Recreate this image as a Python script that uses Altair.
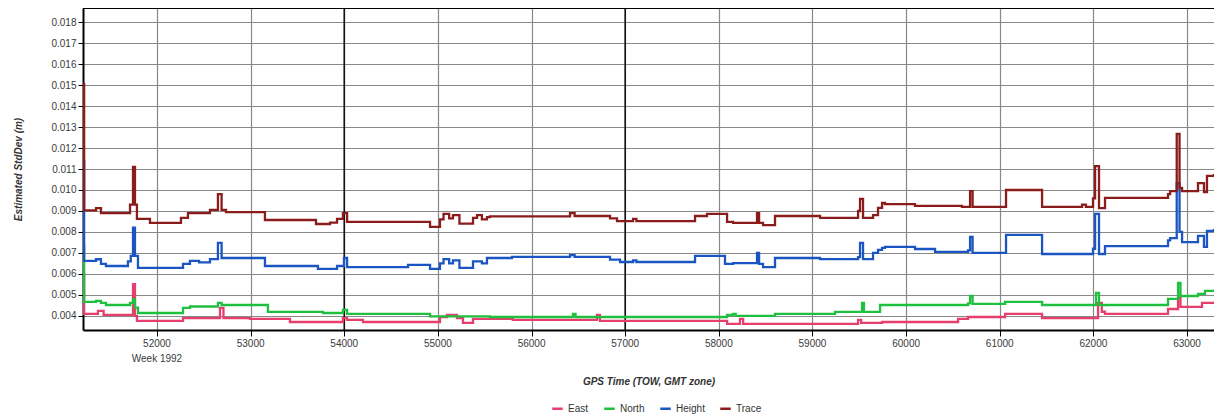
import altair as alt
import pandas as pd

# ---- data (GPS time of week, estimated std dev in m) ----
trace_t = [51212, 51222, 51349, 51402, 51712, 51744, 51765, 51786, 51925, 52256, 52331, 52566,
           52651, 52690, 52737, 53153, 53698, 53848, 53923, 53986, 54030, 54916, 55022, 55060,
           55120, 55161, 55230, 55375, 55418, 55470, 55524, 55556, 56411, 56460, 56838, 56913,
           57084, 57120, 57746, 57874, 58088, 58152, 58408, 58430, 58472, 58600, 59081, 59487,
           59508, 59540, 59647, 59700, 59743, 59775, 60095, 60597, 60683, 60710, 61067, 61452,
           61879, 61920, 61996, 62018, 62060, 62124, 62797, 62819, 62890, 62920, 62947, 63117,
           63181, 63213, 63288]
trace_v = [0.01505, 0.00903, 0.00914, 0.00890, 0.00930, 0.01110, 0.00930, 0.00862, 0.00843, 0.00867, 0.00890, 0.00905,
           0.00980, 0.00905, 0.00895, 0.00857, 0.00838, 0.00845, 0.00862, 0.00890, 0.00848, 0.00824, 0.00860, 0.00886,
           0.00865, 0.00880, 0.00840, 0.00867, 0.00880, 0.00860, 0.00871, 0.00874, 0.00890, 0.00876, 0.00865, 0.00852,
           0.00862, 0.00852, 0.00876, 0.00886, 0.00848, 0.00843, 0.00890, 0.00843, 0.00833, 0.00876, 0.00867, 0.00900,
           0.00957, 0.00867, 0.00880, 0.00915, 0.00938, 0.00933, 0.00924, 0.00920, 0.00995, 0.00920, 0.01000, 0.00920,
           0.00930, 0.00920, 0.00960, 0.01114, 0.00914, 0.00962, 0.00980, 0.00995, 0.01267, 0.01010, 0.00995, 0.01033,
           0.00990, 0.01067, 0.01076]

height_t = [51212, 51222, 51349, 51402, 51455, 51690, 51720, 51744, 51765, 51797, 52278, 52352,
            52450, 52566, 52651, 52690, 53153, 53719, 53923, 53997, 54030, 54681, 54916, 55022,
            55060, 55120, 55161, 55230, 55375, 55470, 55524, 55791, 56411, 56460, 56838, 56945,
            57084, 57120, 57746, 58066, 58152, 58408, 58430, 58472, 58600, 59081, 59487, 59508,
            59540, 59647, 59700, 59743, 59775, 60095, 60309, 60661, 60683, 60710, 61067, 61452,
            61996, 62018, 62060, 62124, 62797, 62819, 62890, 62920, 62947, 63117, 63181, 63213,
            63288]
height_v = [0.01138, 0.00662, 0.00670, 0.00648, 0.00638, 0.00660, 0.00686, 0.00820, 0.00686, 0.00629, 0.00648, 0.00662,
            0.00655, 0.00671, 0.00748, 0.00676, 0.00638, 0.00624, 0.00638, 0.00676, 0.00633, 0.00643, 0.00624, 0.00650,
            0.00671, 0.00650, 0.00665, 0.00629, 0.00660, 0.00650, 0.00676, 0.00681, 0.00690, 0.00681, 0.00668, 0.00657,
            0.00665, 0.00657, 0.00686, 0.00648, 0.00652, 0.00700, 0.00648, 0.00633, 0.00676, 0.00671, 0.00680, 0.00748,
            0.00671, 0.00700, 0.00715, 0.00724, 0.00729, 0.00719, 0.00705, 0.00712, 0.00776, 0.00700, 0.00786, 0.00695,
            0.00720, 0.00886, 0.00695, 0.00733, 0.00760, 0.00771, 0.01033, 0.00800, 0.00752, 0.00781, 0.00729, 0.00805,
            0.00814]

north_t = [51212, 51222, 51349, 51402, 51455, 51712, 51744, 51765, 51797, 52278, 52352, 52651,
           52690, 53185, 53773, 53986, 54030, 54916, 55556, 56443, 56470, 58088, 58152, 58180,
           58600, 59241, 59529, 59550, 59722, 60661, 60683, 60710, 61057, 61452, 62028, 62060,
           62797, 62904, 62930, 63117, 63192, 63288]
north_v = [0.00733, 0.00467, 0.00472, 0.00462, 0.00452, 0.00462, 0.00480, 0.00440, 0.00414, 0.00438, 0.00445, 0.00462,
           0.00452, 0.00419, 0.00414, 0.00429, 0.00410, 0.00398, 0.00395, 0.00410, 0.00395, 0.00405, 0.00410, 0.00400,
           0.00410, 0.00419, 0.00462, 0.00419, 0.00452, 0.00460, 0.00495, 0.00457, 0.00467, 0.00452, 0.00510, 0.00452,
           0.00481, 0.00557, 0.00495, 0.00505, 0.00519, 0.00519]

east_t = [51212, 51222, 51370, 51430, 51744, 51765, 51786, 52278, 52673, 52710, 52993, 53420,
          53986, 54030, 54200, 54916, 55022, 55097, 55204, 55268, 55375, 55800, 56699, 56730,
          58088, 58226, 58260, 59487, 59520, 59743, 60555, 60661, 61057, 61452, 62050, 62090,
          62124, 62797, 62904, 62930, 63160, 63288]
east_v = [0.00600, 0.00410, 0.00424, 0.00405, 0.00552, 0.00400, 0.00376, 0.00390, 0.00438, 0.00390, 0.00386, 0.00371,
          0.00390, 0.00381, 0.00371, 0.00371, 0.00395, 0.00405, 0.00390, 0.00367, 0.00386, 0.00381, 0.00405, 0.00376,
          0.00362, 0.00386, 0.00362, 0.00381, 0.00367, 0.00371, 0.00386, 0.00395, 0.00410, 0.00390, 0.00462, 0.00420,
          0.00410, 0.00433, 0.00486, 0.00443, 0.00462, 0.00462]

series_names = ["East", "North", "Height", "Trace"]
series_colors = ["#e63e6d", "#1fbf3f", "#1b55c2", "#8b1c1c"]

x_ticks = [52000, 53000, 54000, 55000, 56000, 57000, 58000, 59000, 60000, 61000, 62000, 63000]
y_ticks = [0.004, 0.005, 0.006, 0.007, 0.008, 0.009, 0.010, 0.011, 0.012, 0.013, 0.014,
           0.015, 0.016, 0.017, 0.018]
major_lines = [54000, 57000]
x_domain = [51210, 63288]
y_domain = [0.00333, 0.01867]
week_tick = [52000]
week_text = ["Week 1992"]

rows = []
for name, ts, vs in [("East", east_t, east_v), ("North", north_t, north_v),
                     ("Height", height_t, height_v), ("Trace", trace_t, trace_v)]:
    for t, v in zip(ts, vs):
        rows.append({"series": name, "t": t, "v": v})
df = pd.DataFrame(rows)

# tick label text: the week tick carries a second line
label_rows = []
for v in x_ticks:
    text = str(v)
    if v in week_tick:
        text = text + "\n" + week_text[week_tick.index(v)]
    label_rows.append({"t": v, "label": text})
labels_df = pd.DataFrame(label_rows)

PLOT_W = 1131
PLOT_H = 322
FONT = "Liberation Sans"
LABEL_COLOR = "#3a3a3a"

x_scale = alt.Scale(domain=x_domain, nice=False, zero=False)
y_scale = alt.Scale(domain=y_domain, nice=False, zero=False)

x_axis = alt.Axis(
    values=x_ticks, title="GPS Time (TOW, GMT zone)",
    labels=False, tickSize=6, titlePadding=40,
)
y_axis = alt.Axis(
    values=y_ticks, format=".3f", title="Estimated StdDev (m)",
    tickSize=5, labelPadding=2, titlePadding=27,
    labelFlush=False, labelOverlap=False,
)

lines = alt.Chart(df).mark_line(interpolate="step-after", strokeWidth=2.3).encode(
    x=alt.X("t:Q", scale=x_scale, axis=x_axis),
    y=alt.Y("v:Q", scale=y_scale, axis=y_axis),
    color=alt.Color(
        "series:N",
        scale=alt.Scale(domain=series_names, range=series_colors),
        legend=alt.Legend(
            title=None, orient="none", legendX=468, legendY=394, direction="horizontal",
            symbolType="stroke", symbolSize=110, symbolStrokeWidth=2.5,
            labelFont=FONT, labelFontSize=10, labelColor="#333333", columnPadding=10,
        ),
    ),
)

rules = alt.Chart(pd.DataFrame({"t": major_lines})).mark_rule(
    color="#111111", strokeWidth=1.6
).encode(x=alt.X("t:Q", scale=x_scale, axis=x_axis))

top_border = alt.Chart(pd.DataFrame({"k": [0]})).mark_rule(color="black", strokeWidth=2).encode(
    x=alt.value(0), x2=alt.value(PLOT_W), y=alt.value(0)
)

tick_labels = alt.Chart(labels_df).mark_text(
    font=FONT, fontSize=10, color=LABEL_COLOR, baseline="top", align="center",
    lineBreak="\n", lineHeight=15,
).encode(
    x=alt.X("t:Q", scale=x_scale, axis=x_axis),
    y=alt.value(PLOT_H + 9),
    text="label:N",
)

chart = alt.layer(rules, lines, top_border, tick_labels).properties(
    width=PLOT_W, height=PLOT_H,
    autosize=alt.AutoSizeParams(type="none"),
    padding={"left": 75, "top": 0, "right": 0, "bottom": 85},
).configure_view(
    stroke="transparent"
).configure_axis(
    grid=True, gridColor="#888888", gridWidth=1.2,
    domain=True, domainColor="black", domainWidth=2,
    tickColor="black", tickWidth=1,
    labelFont=FONT, labelFontSize=10, labelColor=LABEL_COLOR,
    titleFont=FONT, titleFontSize=10, titleFontStyle="italic", titleFontWeight="bold",
    titleColor="#333333",
)

chart.save("out.html", embed_options={"renderer": "svg", "actions": False})
